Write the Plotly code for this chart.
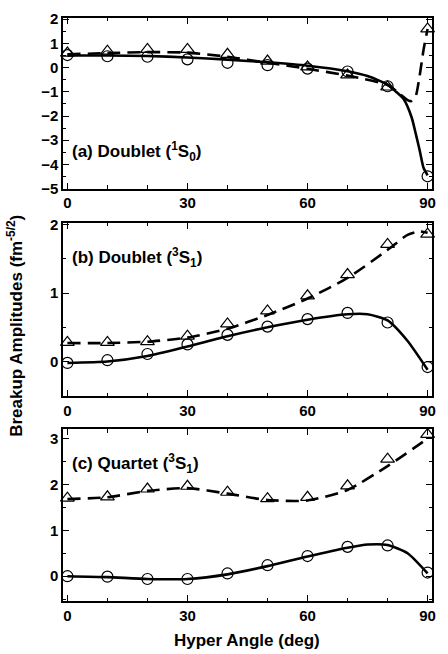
import plotly.graph_objects as go

angles = [0, 10, 20, 30, 40, 50, 60, 70, 80, 90]

# Panel (a) Doublet 1S0
a_circ = [0.52, 0.47, 0.45, 0.34, 0.20, 0.10, -0.04, -0.16, -0.77, -4.49]
a_tri = [0.60, 0.68, 0.75, 0.75, 0.55, 0.27, 0.03, -0.30, -0.80, 1.60]
a_solid_x = [0, 10, 20, 30, 40, 50, 60, 70, 75, 80, 82, 84, 86, 87, 88, 89, 90]
a_solid_y = [0.50, 0.50, 0.48, 0.42, 0.33, 0.22, 0.08, -0.15, -0.35, -0.70, -0.98, -1.30, -2.05, -2.70, -3.40, -4.15, -4.45]
a_dash_x = [0, 10, 20, 30, 40, 50, 60, 70, 80, 83, 85, 86, 87, 88, 89, 90]
a_dash_y = [0.55, 0.60, 0.64, 0.62, 0.45, 0.20, -0.05, -0.33, -0.72, -1.08, -1.34, -1.38, -1.20, -0.35, 0.75, 1.60]

# Panel (b) Doublet 3S1
b_circ = [-0.02, 0.02, 0.11, 0.25, 0.39, 0.51, 0.62, 0.71, 0.57, -0.08]
b_tri = [0.28, 0.28, 0.29, 0.37, 0.55, 0.74, 0.96, 1.27, 1.71, 1.86]
b_solid_x = [0, 10, 20, 30, 40, 50, 60, 70, 75, 80, 85, 90]
b_solid_y = [-0.02, 0.00, 0.08, 0.22, 0.37, 0.50, 0.61, 0.69, 0.69, 0.60, 0.30, -0.12]
b_dash_x = [0, 10, 20, 30, 40, 50, 60, 70, 80, 85, 88, 90]
b_dash_y = [0.27, 0.27, 0.29, 0.35, 0.48, 0.68, 0.92, 1.22, 1.63, 1.85, 1.90, 1.88]

# Panel (c) Quartet 3S1
c_circ = [0.00, -0.01, -0.06, -0.06, 0.06, 0.24, 0.44, 0.64, 0.67, 0.08]
c_tri = [1.70, 1.73, 1.90, 1.96, 1.83, 1.69, 1.72, 1.97, 2.55, 3.09]
c_solid_x = [0, 10, 20, 30, 40, 50, 60, 70, 75, 80, 85, 90]
c_solid_y = [0.00, -0.02, -0.06, -0.06, 0.04, 0.22, 0.43, 0.62, 0.69, 0.68, 0.50, 0.06]
c_dash_x = [0, 10, 20, 30, 40, 50, 60, 70, 80, 90]
c_dash_y = [1.68, 1.72, 1.86, 1.92, 1.80, 1.66, 1.65, 1.88, 2.40, 3.00]

labels = ["(a) Doublet (<sup>1</sup>S<sub>0</sub>)",
          "(b) Doublet (<sup>3</sup>S<sub>1</sub>)",
          "(c) Quartet (<sup>3</sup>S<sub>1</sub>)"]
x_ticks = [0, 30, 60, 90]

FONT = "Liberation Sans, Arial, sans-serif"
W, H = 448, 654
ml, mr, mt, mb = 63, 16, 10, 53
ph = H - mt - mb

def frac(top, bot):
    return [(H - mb - bot) / ph, (H - mb - top) / ph]

domains = [frac(10, 183), frac(218, 393), frac(427, 601)]
yranges = [[-5, 2.05], [-0.5, 2.02], [-0.54, 3.2]]
ydticks = [1, 1, 1]

panels = [
    (a_circ, a_tri, a_solid_x, a_solid_y, a_dash_x, a_dash_y),
    (b_circ, b_tri, b_solid_x, b_solid_y, b_dash_x, b_dash_y),
    (c_circ, c_tri, c_solid_x, c_solid_y, c_dash_x, c_dash_y),
]

fig = go.Figure()
for i, (circ, tri, sx, sy, dx, dy) in enumerate(panels):
    xa = "x" if i == 0 else f"x{i+1}"
    ya = "y" if i == 0 else f"y{i+1}"
    fig.add_trace(go.Scatter(x=sx, y=sy, mode="lines", line=dict(color="black", width=2.6, shape="spline", smoothing=0.6),
                             xaxis=xa, yaxis=ya, showlegend=False))
    fig.add_trace(go.Scatter(x=dx, y=dy, mode="lines", line=dict(color="black", width=2.6, dash="13px,7px", shape="spline", smoothing=0.6),
                             xaxis=xa, yaxis=ya, showlegend=False))
    fig.add_trace(go.Scatter(x=angles, y=circ, mode="markers",
                             marker=dict(symbol="circle-open", size=11, color="black", line=dict(width=1.2)),
                             xaxis=xa, yaxis=ya, showlegend=False, cliponaxis=False))
    fig.add_trace(go.Scatter(x=angles, y=tri, mode="markers",
                             marker=dict(symbol="triangle-up-open", size=12, color="black", line=dict(width=1.2)),
                             xaxis=xa, yaxis=ya, showlegend=False, cliponaxis=False))

    axcommon = dict(showline=True, linecolor="black", linewidth=1.5, mirror="allticks",
                    ticks="inside", ticklen=6, tickwidth=1.3, tickcolor="black",
                    showgrid=False, zeroline=False,
                    tickfont=dict(family=FONT, size=15, color="black", weight="bold"))
    xkey = "xaxis" if i == 0 else f"xaxis{i+1}"
    ykey = "yaxis" if i == 0 else f"yaxis{i+1}"
    fig.layout[xkey] = dict(axcommon, range=[-1.1, 91.1], tickvals=x_ticks, anchor=ya, domain=[0, 1],
                            minor=dict(ticks="inside", ticklen=3.5, dtick=10, tick0=0, tickcolor="black", tickwidth=1.2))
    fig.layout[ykey] = dict(axcommon, range=yranges[i], dtick=ydticks[i], tick0=0, anchor=xa, domain=domains[i],
                            minor=dict(ticks="inside", ticklen=3.5, dtick=0.5, tick0=0, tickcolor="black", tickwidth=1.2))

label_y = [145, 253, 462]
annotations = []
for i, lab in enumerate(labels):
    annotations.append(dict(text=lab, xref="paper", yref="paper",
                            x=(70 - ml) / (W - ml - mr), y=(H - mb - label_y[i]) / ph,
                            xanchor="left", yanchor="middle", showarrow=False,
                            font=dict(family=FONT, size=17, color="black", weight="bold")))
annotations.append(dict(text="Breakup Amplitudes (fm<sup>-5/2</sup>)", xref="paper", yref="paper",
                        x=(15 - ml) / (W - ml - mr), y=(H - mb - 322) / ph, textangle=-90,
                        xanchor="center", yanchor="middle", showarrow=False,
                        font=dict(family=FONT, size=17, color="black", weight="bold")))
annotations.append(dict(text="Hyper Angle (deg)", xref="paper", yref="paper",
                        x=(247 - ml) / (W - ml - mr), y=(H - mb - 641) / ph,
                        xanchor="center", yanchor="middle", showarrow=False,
                        font=dict(family=FONT, size=17, color="black", weight="bold")))

fig.update_layout(width=W, height=H, margin=dict(l=ml, r=mr, t=mt, b=mb),
                  plot_bgcolor="white", paper_bgcolor="white", annotations=annotations)
fig.write_html("out.html", config={"displayModeBar": False},
               post_script="document.body.style.margin='0';document.body.style.overflow='hidden';")
